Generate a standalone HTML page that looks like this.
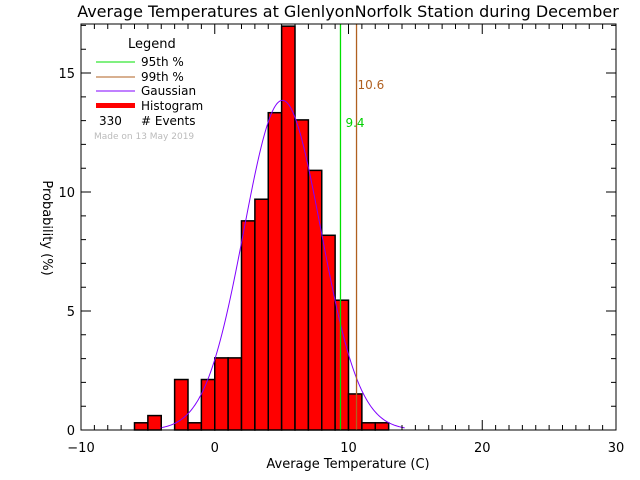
<!DOCTYPE html>
<html><head><meta charset="utf-8"><style>
html,body{margin:0;padding:0;background:#fff;}
svg{display:block;font-family:"DejaVu Sans","Liberation Sans",sans-serif;}
</style></head><body>
<svg id="chart" width="640" height="480" viewBox="0 0 640 480">
<text x="348" y="17" font-size="16" text-anchor="middle">Average Temperatures at GlenlyonNorfolk Station during December</text>
<g id="plot"></g>
<text x="348" y="468" font-size="13" text-anchor="middle">Average Temperature (C)</text>
<text transform="translate(43,228) rotate(90)" font-size="13" text-anchor="middle">Probability  (%)</text>
<g>
<text x="128" y="48" font-size="13">Legend</text>
<line x1="96" y1="62" x2="135" y2="62" stroke="#00e000"/>
<text x="141" y="66" font-size="12">95th %</text>
<line x1="96" y1="77" x2="135" y2="77" stroke="#b06020"/>
<text x="141" y="81" font-size="12">99th %</text>
<line x1="96" y1="91" x2="135" y2="91" stroke="#8000ff"/>
<text x="141" y="95" font-size="12">Gaussian</text>
<rect x="96" y="103" width="39" height="5" fill="#ff0000"/>
<text x="141" y="110" font-size="12">Histogram</text>
<text x="99" y="125" font-size="12">330</text>
<text x="141" y="125" font-size="12"># Events</text>
<text x="94" y="139" font-size="9" fill="#bbbbbb">Made on 13 May 2019</text>
</g>
</svg>
<script>
const binStarts = [-6,-5,-4,-3,-2,-1,0,1,2,3,4,5,6,7,8,9,10,11,12];
const binCounts = [1,2,0,7,1,7,10,10,29,32,44,56,43,36,27,18,5,1,1];
const totalEvents = 330;
const gaussMean = 5.06;
const gaussSigma = 2.88;
const gaussRange = [-4.1, 14.2];
const p95 = 9.4;
const p99 = 10.6;
const xTicks = [-10,0,10,20,30];
const yTicks = [0,5,10,15];

const L=81,R=616,T=24,B=430, XMIN=-10,XMAX=30,YMIN=0,YMAX=17.06;
const sx=v=>L+(v-XMIN)/(XMAX-XMIN)*(R-L);
const sy=v=>B-(v-YMIN)/(YMAX-YMIN)*(B-T);
const NS="http://www.w3.org/2000/svg";
const g=document.getElementById('plot');
function mk(t,a){const e=document.createElementNS(NS,t);for(const k in a)e.setAttribute(k,a[k]);g.appendChild(e);return e;}

binStarts.forEach((s,i)=>{
  const v=binCounts[i]/totalEvents*100;
  if(v<=0)return;
  const r=mk('rect',{x:sx(s),y:sy(v),width:sx(s+1)-sx(s),height:B-sy(v),fill:'#ff0000',stroke:'#000','stroke-width':1.5});
  
  
});

let d='';
for(let i=0;i<=300;i++){
  const x=gaussRange[0]+(gaussRange[1]-gaussRange[0])*i/300;
  const y=100/(gaussSigma*Math.sqrt(2*Math.PI))*Math.exp(-0.5*((x-gaussMean)/gaussSigma)**2);
  d+=(i?'L':'M')+sx(x).toFixed(2)+','+sy(y).toFixed(2);
}
const gp=mk('path',{d:d,fill:'none',stroke:'#8000ff','stroke-width':1});



const l95=mk('line',{x1:sx(p95),x2:sx(p95),y1:T,y2:B,stroke:'#00e000','stroke-width':1.3});


const t95=mk('text',{x:sx(p95)+5,y:127,'font-size':12,fill:'#00d000'});t95.textContent=p95.toFixed(1);


const l99=mk('line',{x1:sx(p99),x2:sx(p99),y1:T,y2:B,stroke:'#b06020','stroke-width':1.3});


const t99=mk('text',{x:sx(p99)+1,y:89,'font-size':12,fill:'#b06020'});t99.textContent=p99.toFixed(1);



const frame=mk('rect',{x:L,y:T,width:R-L,height:B-T,fill:'none',stroke:'#000','stroke-width':1});



let td='';
for(let v=XMIN;v<=XMAX;v++){
  const len=(v%10===0)?10:5;
  td+=`M${sx(v)},${B}v${-len}M${sx(v)},${T}v${len}`;
}
for(let v=0;v<=17;v++){
  const len=(v%5===0)?10:5;
  td+=`M${L},${sy(v)}h${len}M${R},${sy(v)}h${-len}`;
}
const tk=mk('path',{d:td,stroke:'#000','stroke-width':1,fill:'none'});



xTicks.forEach(v=>{
  const t=mk('text',{x:sx(v),y:452,'font-size':13,'text-anchor':'middle'});t.textContent=v<0?'\u2212'+Math.abs(v):v;
  
  
});
yTicks.forEach(v=>{
  const t=mk('text',{x:L-6,y:sy(v)+5,'font-size':13,'text-anchor':'end'});t.textContent=v;
  
  
});
</script>
</body></html>
